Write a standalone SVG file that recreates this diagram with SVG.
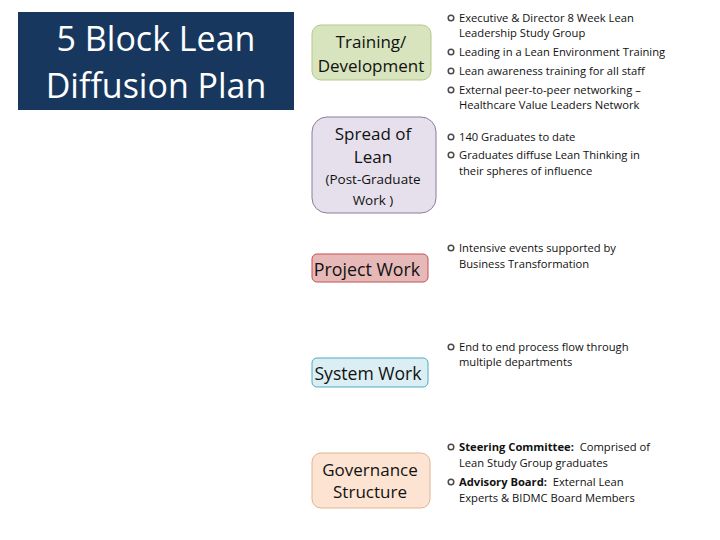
<svg xmlns="http://www.w3.org/2000/svg" width="720" height="540" viewBox="0 0 720 540">
<style>
text{font-family:"Open Sans","Noto Sans","Liberation Sans",sans-serif;fill:#111}
.title{fill:#fff;font-size:34px;text-anchor:middle}
.lbl{font-size:17px;text-anchor:middle}
.sm{font-size:13.5px;text-anchor:middle}
.b{font-size:11.2px;white-space:pre}
.bb{font-weight:bold}
.dot{fill:none;stroke:#4a4a4a;stroke-width:1.5}
</style>
<rect width="720" height="540" fill="#fff"/>
<g id="title">
<rect x="18" y="12" width="276" height="98" fill="#17375e"/>
<text class="title" x="156" y="51">5 Block Lean</text>
<text class="title" x="156" y="98">Diffusion Plan</text>
</g>
<g id="training">
<rect x="312" y="25" width="119" height="55" rx="9" fill="#d7e4bd" stroke="#b3c98a"/>
<text class="lbl" x="371" y="48">Training/</text>
<text class="lbl" x="371" y="72">Development</text>
<circle class="dot" cx="451" cy="18" r="2.8"/>
<text class="b" x="459" y="22">Executive &amp; Director 8 Week Lean</text>
<text class="b" x="459" y="37">Leadership Study Group</text>
<circle class="dot" cx="451" cy="52" r="2.8"/>
<text class="b" x="459" y="56">Leading in a Lean Environment Training</text>
<circle class="dot" cx="451" cy="71" r="2.8"/>
<text class="b" x="459" y="75">Lean awareness training for all staff</text>
<circle class="dot" cx="451" cy="90" r="2.8"/>
<text class="b" x="459" y="94">External peer-to-peer networking –</text>
<text class="b" x="459" y="109">Healthcare Value Leaders Network</text>
</g>
<g id="spread">
<rect x="312" y="117" width="124" height="96" rx="15" fill="#e6e0ec" stroke="#8b7d9c"/>
<text class="lbl" x="373" y="140">Spread of</text>
<text class="lbl" x="373" y="163">Lean</text>
<text class="sm" x="373" y="184">(Post-Graduate</text>
<text class="sm" x="373" y="205">Work )</text>
<circle class="dot" cx="451" cy="137" r="2.8"/>
<text class="b" x="459" y="141">140 Graduates to date</text>
<circle class="dot" cx="451" cy="155" r="2.8"/>
<text class="b" x="459" y="159">Graduates diffuse Lean Thinking in</text>
<text class="b" x="459" y="175">their spheres of influence</text>
</g>
<g id="project">
<rect x="312" y="254" width="116" height="28" rx="5" fill="#e6b9b8" stroke="#c0504d"/>
<text class="lbl" x="367" y="276" style="font-size:17.8px">Project Work</text>
<circle class="dot" cx="451" cy="248" r="2.8"/>
<text class="b" x="459" y="252">Intensive events supported by</text>
<text class="b" x="459" y="268">Business Transformation</text>
</g>
<g id="system">
<rect x="312" y="358" width="116" height="29" rx="5" fill="#dbeef4" stroke="#4bacc6"/>
<text class="lbl" x="368" y="380" style="font-size:17.6px">System Work</text>
<circle class="dot" cx="451" cy="347" r="2.8"/>
<text class="b" x="459" y="351">End to end process flow through</text>
<text class="b" x="459" y="366">multiple departments</text>
</g>
<g id="governance">
<rect x="312" y="453" width="118" height="55" rx="9" fill="#fde4d2" stroke="#e3b28f"/>
<text class="lbl" x="370" y="476">Governance</text>
<text class="lbl" x="370" y="498">Structure</text>
<circle class="dot" cx="451" cy="447" r="2.8"/>
<text class="b" x="459" y="451"><tspan class="bb">Steering Committee:</tspan>  Comprised of</text>
<text class="b" x="459" y="467">Lean Study Group graduates</text>
<circle class="dot" cx="451" cy="482" r="2.8"/>
<text class="b" x="459" y="486"><tspan class="bb">Advisory Board:</tspan>  External Lean</text>
<text class="b" x="459" y="502">Experts &amp; BIDMC Board Members</text>
</g>
<g id="connectors"/>
</svg>
